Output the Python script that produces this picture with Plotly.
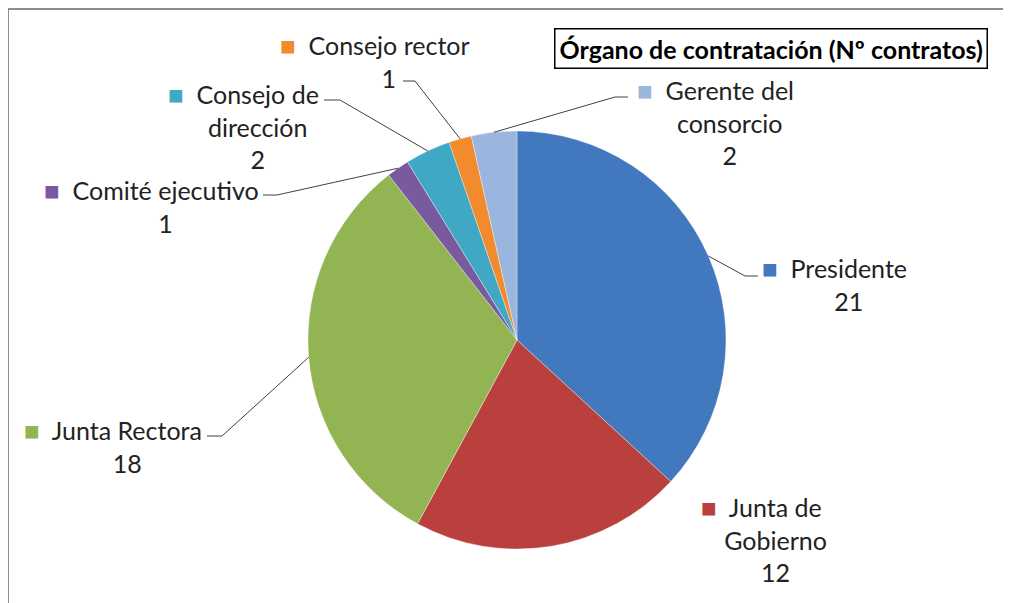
import math
import plotly.graph_objects as go

# ---------------- data ----------------
categories = ["Presidente", "Junta de Gobierno", "Junta Rectora", "Comité ejecutivo",
              "Consejo de dirección", "Consejo rector", "Gerente del consorcio"]
values = [21, 12, 18, 1, 2, 1, 2]
label_lines = [["Presidente"], ["Junta de", "Gobierno"], ["Junta Rectora"], ["Comité ejecutivo"],
               ["Consejo de", "dirección"], ["Consejo rector"], ["Gerente del", "consorcio"]]
title_text = "Órgano de contratación (Nº contratos)"

# ---------------- styles / layout ----------------
colors = ["#4178BE", "#B9403D", "#93B452", "#7A5A9E", "#3FA8C4", "#F28A2E", "#9AB5DE"]
OFF = 8                      # page body margin
W, H = 1011 - OFF, 603 - OFF
CX, CY, R = 517, 340, 209    # pie centre / radius in window pixels
FONT = "Lato, Carlito, Calibri, sans-serif"
FS = 25
# label text centre (window px) and leader-line end (window px, None = no leader)
label_pos = [(849, 284), (775, 539), (127, 446), (165, 206), (257, 126), (389, 61), (730, 122)]
leader_end = [(745, 276), None, (222, 436), (277, 195), (340, 100), (415, 81), (615, 97)]
leader_tick = [(758, 276), None, (207, 436), (263, 195), (324, 100), (403, 81), (628, 97)]


def px(x):
    return (x - OFF) / W


def py(y):
    return 1 - (y - OFF) / H


fig = go.Figure()
fig.add_trace(go.Pie(
    labels=categories, values=values, sort=False, direction="clockwise", rotation=0,
    marker=dict(colors=colors, line=dict(color="rgba(255,255,255,0.35)", width=1)),
    textinfo="none", hoverinfo="label+value", showlegend=False,
    domain=dict(x=[px(CX - R), px(CX + R)], y=[py(CY + R), py(CY - R)]),
))

shapes = []
annotations = []
total = sum(values)
cum = 0
for i, v in enumerate(values):
    mid = (cum + v / 2) / total * 2 * math.pi
    cum += v
    sx = CX + R * math.sin(mid)
    sy = CY - R * math.cos(mid)
    if leader_end[i] is not None:
        ex, ey = leader_end[i]
        tx, ty = leader_tick[i]
        shapes.append(dict(type="line", xref="paper", yref="paper",
                           x0=px(sx), y0=py(sy), x1=px(ex), y1=py(ey),
                           line=dict(color="#404040", width=1)))
        shapes.append(dict(type="line", xref="paper", yref="paper",
                           x0=px(ex), y0=py(ey), x1=px(tx), y1=py(ty),
                           line=dict(color="#404040", width=1)))
    lines = list(label_lines[i])
    # visible marker on the left, transparent twin on the right so text stays centred
    lines[0] = (f"<span style='color:{colors[i]};font-size:26px'>■</span>  " + lines[0]
                + "  <span style='color:rgba(0,0,0,0);font-size:26px'>■</span>")
    lines.append(str(v))
    lx, ly = label_pos[i]
    annotations.append(dict(
        x=px(lx), y=py(ly), xref="paper", yref="paper", showarrow=False,
        text="<br>".join(lines), align="center", xanchor="center", yanchor="middle",
        font=dict(family=FONT, size=FS, color="#222222"),
    ))

# title box
annotations.append(dict(
    x=px(771), y=py(49), xref="paper", yref="paper", showarrow=False,
    text="<b>" + title_text + "</b>", xanchor="center", yanchor="middle",
    font=dict(family=FONT, size=25, color="#000000"),
    bordercolor="#000000", borderwidth=1.5, borderpad=4, bgcolor="white",
))

# chart frame (top and left edges)
shapes.append(dict(type="line", xref="paper", yref="paper", x0=px(8), y0=py(9), x1=1, y1=py(9),
                   line=dict(color="#8c8c8c", width=2)))
shapes.append(dict(type="line", xref="paper", yref="paper", x0=px(8), y0=py(9), x1=px(8), y1=0,
                   line=dict(color="#8c8c8c", width=2)))

fig.update_layout(
    width=W, height=H, margin=dict(l=0, r=0, t=0, b=0),
    paper_bgcolor="white", plot_bgcolor="white",
    shapes=shapes, annotations=annotations,
)

fig.write_html("out.html")
